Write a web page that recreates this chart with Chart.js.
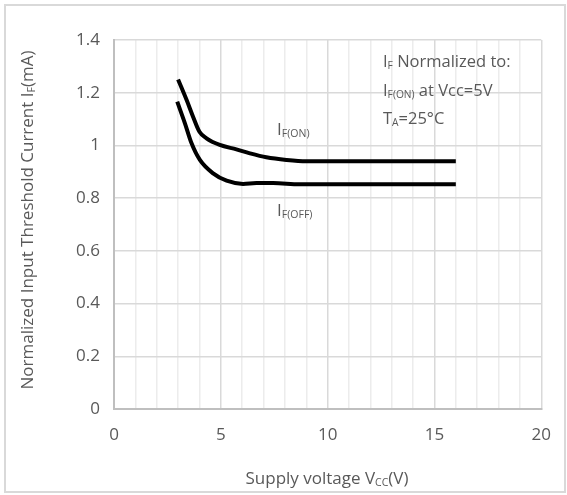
<!DOCTYPE html>
<html>
<head>
<meta charset="utf-8">
<script src="https://cdn.jsdelivr.net/npm/chart.js@4"></script>
<style>
  body { margin: 0; background: #fff; }
  #wrap { width: 567px; height: 495px; }
</style>
</head>
<body>
<div id="wrap"><canvas id="myChart" width="567" height="495"></canvas></div>
<script>
// values
const vccOn = [3.0, 3.4, 3.7, 4.0, 4.33, 4.95, 5.73, 6.36, 7.13, 8.07, 9.0, 12, 16];
const ifOn = [1.25, 1.172, 1.109, 1.052, 1.027, 1.002, 0.985, 0.970, 0.955, 0.945, 0.940, 0.940, 0.940];
const vccOff = [2.96, 3.32, 3.63, 4.02, 4.64, 5.27, 6.04, 6.67, 7.45, 8.69, 12, 16];
const ifOff = [1.166, 1.084, 1.008, 0.945, 0.894, 0.866, 0.854, 0.857, 0.857, 0.853, 0.853, 0.853];
const xTicks = [0, 5, 10, 15, 20];
const yTicks = [0, 0.2, 0.4, 0.6, 0.8, 1, 1.2, 1.4];

const FONT = '"Open Sans", sans-serif';
const TXT = '#595959';

function pts(xs, ys) {
  return xs.map((x, i) => ({ x: x, y: ys[i] }));
}

// text with subscripts: parts = [[text, isSub], ...]
function richText(ctx, parts, x, y, size, color) {
  ctx.save();
  ctx.fillStyle = color;
  ctx.textBaseline = 'middle';
  ctx.textAlign = 'left';
  let cx = x;
  parts.forEach(p => {
    const s = p[1] ? size * 0.62 : size;
    ctx.font = s + 'px ' + FONT;
    ctx.fillText(p[0], cx, p[1] ? y + size * 0.25 : y);
    cx += ctx.measureText(p[0]).width;
  });
  ctx.restore();
  return cx - x;
}

function richWidth(ctx, parts, size) {
  let w = 0;
  parts.forEach(p => {
    ctx.font = (p[1] ? size * 0.62 : size) + 'px ' + FONT;
    w += ctx.measureText(p[0]).width;
  });
  return w;
}

const extras = {
  id: 'extras',
  afterDraw(chart) {
    const ctx = chart.ctx;
    // outer frame
    ctx.save();
    ctx.strokeStyle = '#d9d9d9';
    ctx.lineWidth = 2;
    ctx.strokeRect(5, 5, 560, 487);
    ctx.restore();

    // axis titles
    const xt = [['Supply voltage V', false], ['CC', true], ['(V)', false]];
    const xw = richWidth(ctx, xt, 17);
    richText(ctx, xt, 327 - xw / 2, 479, 17, TXT);

    const yt = [['Normalized Input Threshold Current I', false], ['F', true], ['(mA)', false]];
    const yw = richWidth(ctx, yt, 17);
    ctx.save();
    ctx.translate(28, 220);
    ctx.rotate(-Math.PI / 2);
    richText(ctx, yt, -yw / 2, 0, 17, TXT);
    ctx.restore();

    // curve labels
    richText(ctx, [['I', false], ['F(ON)', true]], 277, 130, 17, TXT);
    richText(ctx, [['I', false], ['F(OFF)', true]], 277, 211, 17, TXT);

    // note
    richText(ctx, [['I', false], ['F', true], [' Normalized to:', false]], 383, 62, 16.5, TXT);
    richText(ctx, [['I', false], ['F(ON)', true], [' at Vcc=5V', false]], 383, 91, 16.5, TXT);
    richText(ctx, [['T', false], ['A', true], ['=25°C', false]], 383, 119, 16.5, TXT);
  }
};

const ctx = document.getElementById('myChart');
const myChart = new Chart(ctx, {
  type: 'scatter',
  data: {
    datasets: [{
      label: 'IF(ON)',
      data: pts(vccOn, ifOn),
      showLine: true,
      borderColor: '#000',
      borderWidth: 4,
      pointRadius: 0,
      cubicInterpolationMode: 'monotone'
    }, {
      label: 'IF(OFF)',
      data: pts(vccOff, ifOff),
      showLine: true,
      borderColor: '#000',
      borderWidth: 4,
      pointRadius: 0,
      cubicInterpolationMode: 'monotone'
    }]
  },
  options: {
    responsive: false,
    animation: false,
    layout: { padding: { left: 0, top: 40, right: 25, bottom: 0 } },
    plugins: { legend: { display: false }, tooltip: { enabled: false } },
    scales: {
      x: {
        type: 'linear',
        min: 0,
        max: 20,
        afterBuildTicks: s => { s.ticks = []; for (let v = 0; v <= 20; v++) s.ticks.push({ value: v }); },
        ticks: {
          autoSkip: false,
          maxRotation: 0,
          padding: 16,
          color: TXT,
          font: { family: FONT, size: 17 },
          callback: v => xTicks.includes(v) ? String(v) : ''
        },
        grid: {
          drawTicks: false,
          color: c => (c.tick && c.tick.value % 5 === 0) ? '#d9d9d9' : '#ececec',
          lineWidth: 1.5
        },
        border: { color: '#bfbfbf', width: 2 },
        afterFit: s => { s.height = 495 - 409; }
      },
      y: {
        min: 0,
        max: 1.4,
        afterBuildTicks: s => { s.ticks = yTicks.map(v => ({ value: v })); },
        ticks: {
          padding: 14,
          color: TXT,
          font: { family: FONT, size: 17 },
          callback: v => String(v)
        },
        grid: { drawTicks: false, color: '#d9d9d9', lineWidth: 1.5 },
        border: { color: '#bfbfbf', width: 2 },
        afterFit: s => { s.width = 114; }
      }
    }
  },
  plugins: [extras]
});
</script>
</body>
</html>
